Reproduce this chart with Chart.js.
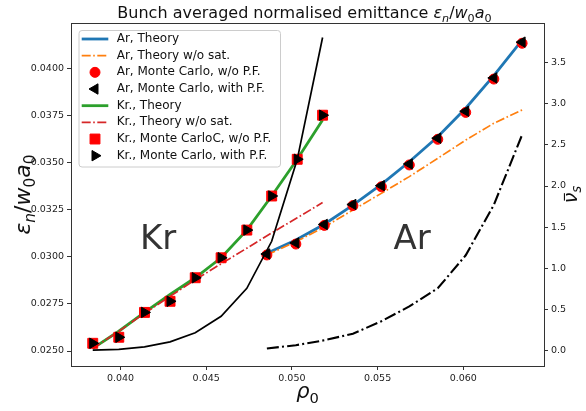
<!DOCTYPE html>
<html><head><meta charset="utf-8">
<script src="https://cdn.jsdelivr.net/npm/chart.js@4.4.1/dist/chart.umd.min.js"></script>
<style>html,body{margin:0;padding:0;background:#fff;}#wrap{width:586px;height:411px;}</style>
</head><body><div id="wrap"><canvas id="c" width="586" height="411"></canvas></div>
<script>
// ---- data ----
const krRho      = [0.03838, 0.03990, 0.04140, 0.04289, 0.04436, 0.04587, 0.04737, 0.04882, 0.05031, 0.05179];
const krTheory   = [0.02514, 0.02605, 0.02705, 0.02800, 0.02889, 0.02995, 0.03142, 0.03323, 0.03518, 0.03727];
const krNoSat    = [0.02514, 0.02605, 0.02700, 0.02790, 0.02878, 0.02963, 0.03046, 0.03127, 0.03207, 0.03288];
const krMcNoPF   = [0.02541, 0.02573, 0.02705, 0.02764, 0.02889, 0.02995, 0.03142, 0.03323, 0.03518, 0.03752];
const krMcPF     = [0.02541, 0.02573, 0.02705, 0.02764, 0.02889, 0.02995, 0.03142, 0.03323, 0.03518, 0.03752];
const krNu       = [0.01, 0.02, 0.05, 0.11, 0.22, 0.42, 0.76, 1.33, 2.32, 3.80];

const arRho      = [0.04854, 0.05023, 0.05189, 0.05356, 0.05522, 0.05685, 0.05851, 0.06014, 0.06178, 0.06343];
const arTheory   = [0.03019, 0.03089, 0.03173, 0.03275, 0.03385, 0.03505, 0.03638, 0.03789, 0.03962, 0.04151];
const arNoSat    = [0.03010, 0.03080, 0.03158, 0.03249, 0.03337, 0.03426, 0.03523, 0.03620, 0.03709, 0.03780];
const arMcNoPF   = [0.03010, 0.03068, 0.03167, 0.03272, 0.03372, 0.03488, 0.03624, 0.03767, 0.03944, 0.04134];
const arMcPF     = [0.03015, 0.03074, 0.03172, 0.03278, 0.03378, 0.03493, 0.03630, 0.03773, 0.03950, 0.04140];
const arNu       = [0.03, 0.07, 0.13, 0.21, 0.36, 0.54, 0.76, 1.16, 1.77, 2.62];

const xTicks  = [0.040, 0.045, 0.050, 0.055, 0.060];
const yTicks  = [0.0250, 0.0275, 0.0300, 0.0325, 0.0350, 0.0375, 0.0400];
const y2Ticks = [0.0, 0.5, 1.0, 1.5, 2.0, 2.5, 3.0, 3.5];

const gasLabels = [{t:'Kr', x:0.04114, y:0.0304}, {t:'Ar', x:0.05593, y:0.03042}];

// ---- text pieces (math-like) ----
const titleSegs = [{t:'Bunch averaged normalised emittance '},{t:'ε',it:1},{t:'n',it:1,sub:1},{t:'/'},{t:'w',it:1},{t:'0',sub:1},{t:'a',it:1},{t:'0',sub:1}];
const yLabelSegs = [{t:'ε',it:1},{t:'n',it:1,sub:1},{t:'/'},{t:'w',it:1},{t:'0',sub:1},{t:'a',it:1},{t:'0',sub:1}];
const xLabelSegs = [{t:'ρ',it:1},{t:'0',sub:1}];
const y2LabelSegs = [{t:'ν',it:1,bar:1},{t:'s',it:1,sub:1}];

function pts(xs, ys){ return xs.map((x,i)=>({x:x, y:ys[i]})); }

const DD  = [9, 2.5, 1.6, 2.5];
const DDk = [12, 3.2, 2, 3.2];

const datasets = [
 {label:'Ar, Theory', data:pts(arRho, arTheory), yAxisID:'y', borderColor:'#1f77b4', borderWidth:2.8, pointRadius:0, handle:'line'},
 {label:'Ar, Theory w/o sat.', data:pts(arRho, arNoSat), yAxisID:'y', borderColor:'#ff7f0e', borderWidth:1.7, borderDash:DD, pointRadius:0, handle:'line'},
 {label:'Ar, Monte Carlo, w/o P.F.', data:pts(arRho, arMcNoPF), yAxisID:'y', showLine:false, pointStyle:'circle', pointRadius:5, pointBackgroundColor:'#ff0000', pointBorderColor:'#ff0000', pointBorderWidth:1, borderColor:'#ff0000', handle:'marker'},
 {label:'Ar, Monte Carlo, with P.F.', data:pts(arRho, arMcPF), yAxisID:'y', showLine:false, pointStyle:'triangle', pointRotation:-90, pointRadius:6, pointBackgroundColor:'#000', pointBorderColor:'#000', pointBorderWidth:1, borderColor:'#000', handle:'marker'},
 {label:'Kr., Theory', data:pts(krRho, krTheory), yAxisID:'y', borderColor:'#2ca02c', borderWidth:2.8, pointRadius:0, handle:'line'},
 {label:'Kr., Theory w/o sat.', data:pts(krRho, krNoSat), yAxisID:'y', borderColor:'#d62728', borderWidth:1.7, borderDash:DD, pointRadius:0, handle:'line'},
 {label:'Kr., Monte CarloC, w/o P.F.', data:pts(krRho, krMcNoPF), yAxisID:'y', showLine:false, pointStyle:'rect', pointRadius:7, pointBackgroundColor:'#ff0000', pointBorderColor:'#ff0000', pointBorderWidth:1, borderColor:'#ff0000', handle:'marker'},
 {label:'Kr., Monte Carlo, with P.F.', data:pts(krRho, krMcPF), yAxisID:'y', showLine:false, pointStyle:'triangle', pointRotation:90, pointRadius:6, pointBackgroundColor:'#000', pointBorderColor:'#000', pointBorderWidth:1, borderColor:'#000', handle:'marker'},
 {label:'Kr nu', data:pts(krRho, krNu), yAxisID:'y2', borderColor:'#000', borderWidth:1.7, pointRadius:0},
 {label:'Ar nu', data:pts(arRho, arNu), yAxisID:'y2', borderColor:'#000', borderWidth:2.1, borderDash:DDk, pointRadius:0}
];
datasets.forEach((d,i)=>{ d.order = datasets.length - i; d.fill = false; d.tension = 0; });

const FONT = '"DejaVu Sans", sans-serif';
function segFont(s, size){ const sz = s.sub ? size*0.7 : size; return (s.it?'italic ':'') + sz + 'px ' + FONT; }
function richWidth(ctx, segs, size){ let w=0; segs.forEach(s=>{ ctx.font=segFont(s,size); w+=ctx.measureText(s.t).width; }); return w; }
function drawRich(ctx, segs, x, y, size, align){
  const w = richWidth(ctx, segs, size);
  let cx = align==='center' ? x - w/2 : x;
  ctx.textAlign='left'; ctx.textBaseline='alphabetic';
  segs.forEach(s=>{
    ctx.font = segFont(s,size);
    const dy = s.sub ? size*0.22 : 0;
    ctx.fillText(s.t, cx, y + dy);
    const tw = ctx.measureText(s.t).width;
    if (s.bar){ ctx.save(); ctx.lineWidth = size*0.06; ctx.strokeStyle = ctx.fillStyle; ctx.beginPath(); ctx.moveTo(cx + tw*0.25, y - size*0.66); ctx.lineTo(cx + tw*0.95, y - size*0.66); ctx.stroke(); ctx.restore(); }
    cx += tw;
  });
}
function marker(ctx, style, r, rot, x, y, fill){
  ctx.save(); ctx.fillStyle = fill; ctx.strokeStyle = fill; ctx.lineWidth = 1; ctx.beginPath();
  if (style==='circle'){ ctx.arc(x,y,r,0,Math.PI*2); }
  else if (style==='rect'){ const h=r*Math.SQRT1_2; ctx.rect(x-h,y-h,2*h,2*h); }
  else if (style==='triangle'){ let a=(rot||0)*Math.PI/180; ctx.moveTo(x+Math.sin(a)*r, y-Math.cos(a)*r); a+=2*Math.PI/3; ctx.lineTo(x+Math.sin(a)*r, y-Math.cos(a)*r); a+=2*Math.PI/3; ctx.lineTo(x+Math.sin(a)*r, y-Math.cos(a)*r); ctx.closePath(); }
  ctx.fill(); ctx.stroke(); ctx.restore();
}

const decor = {
  id:'decor',
  beforeDraw(chart){ const c=chart.ctx; c.save(); c.fillStyle='#fff'; c.fillRect(0,0,chart.width,chart.height); c.restore(); },
  afterDraw(chart){
    const ctx = chart.ctx, a = chart.chartArea, sx = chart.scales.x, sy = chart.scales.y;
    ctx.save();
    // top spine
    ctx.strokeStyle='#333'; ctx.lineWidth=1; ctx.beginPath(); ctx.moveTo(a.left, Math.round(a.top)+0.5); ctx.lineTo(a.right, Math.round(a.top)+0.5); ctx.stroke();
    // gas labels
    ctx.fillStyle='#333'; ctx.font='34px '+FONT; ctx.textAlign='left'; ctx.textBaseline='alphabetic';
    gasLabels.forEach(g=>ctx.fillText(g.t, sx.getPixelForValue(g.x), sy.getPixelForValue(g.y)));
    // title + axis labels
    ctx.fillStyle='#111';
    drawRich(ctx, titleSegs, (a.left+a.right)/2 - 3, 18, 16, 'center');
    drawRich(ctx, xLabelSegs, (a.left+a.right)/2, 398, 21, 'center');
    const cy = (a.top+a.bottom)/2;
    ctx.save(); ctx.translate(30, cy); ctx.rotate(-Math.PI/2); drawRich(ctx, yLabelSegs, 0, 0, 22, 'center'); ctx.restore();
    ctx.save(); ctx.translate(577, cy); ctx.rotate(-Math.PI/2); drawRich(ctx, y2LabelSegs, 0, 0, 19, 'center'); ctx.restore();
    // legend
    const L = {x:78.5, y:30, w:201.5, h:136.5};
    ctx.fillStyle='rgba(255,255,255,0.8)'; ctx.strokeStyle='#cccccc'; ctx.lineWidth=1;
    ctx.beginPath(); ctx.roundRect(L.x+0.5, L.y+0.5, L.w, L.h, 3); ctx.fill(); ctx.stroke();
    const items = chart.data.datasets.filter(d=>d.handle);
    items.forEach((d,i)=>{
      const yy = 39 + i*16.67;
      if (d.handle==='line'){
        ctx.save(); ctx.strokeStyle=d.borderColor; ctx.lineWidth=d.borderWidth; ctx.setLineDash(d.borderDash||[]);
        ctx.beginPath(); ctx.moveTo(81.7, yy); ctx.lineTo(108.3, yy); ctx.stroke(); ctx.restore();
      } else {
        marker(ctx, d.pointStyle, d.pointRadius, d.pointRotation, 95, yy, d.pointBackgroundColor);
      }
      ctx.fillStyle='#111'; ctx.font='12px '+FONT; ctx.textAlign='left'; ctx.textBaseline='middle';
      ctx.fillText(d.label, 116.7, yy);
    });
    ctx.restore();
  }
};

const tickFont = {family:'"DejaVu Sans", sans-serif', size:9.5};
const gridOpts = {drawOnChartArea:false, drawTicks:true, tickLength:4, tickColor:'#333', tickWidth:1};
const borderOpts = {display:true, color:'#333', width:1};

new Chart(document.getElementById('c'), {
  type:'line',
  data:{datasets:datasets},
  options:{
    responsive:false, devicePixelRatio:1, animation:false, events:[],
    layout:{padding:{top:23, left:0, right:0, bottom:0}},
    plugins:{legend:{display:false}, tooltip:{enabled:false}, title:{display:false}},
    scales:{
      x:{type:'linear', min:0.037112, max:0.064708,
         afterBuildTicks:s=>{ s.ticks = xTicks.map(v=>({value:v})); },
         afterFit:s=>{ s.height = 45; },
         ticks:{callback:v=>v.toFixed(3), font:tickFont, color:'#222', padding:3, autoSkip:false, maxRotation:0},
         grid:gridOpts, border:borderOpts},
      y:{type:'linear', position:'left', min:0.024204, max:0.042416,
         afterBuildTicks:s=>{ s.ticks = yTicks.map(v=>({value:v})); },
         afterFit:s=>{ s.width = 71; },
         ticks:{callback:v=>v.toFixed(4), font:tickFont, color:'#222', padding:3, autoSkip:false},
         grid:gridOpts, border:borderOpts},
      y2:{type:'linear', position:'right', min:-0.182, max:3.976,
         afterBuildTicks:s=>{ s.ticks = y2Ticks.map(v=>({value:v})); },
         afterFit:s=>{ s.width = 42; },
         ticks:{callback:v=>v.toFixed(1), font:tickFont, color:'#222', padding:3, autoSkip:false},
         grid:gridOpts, border:borderOpts}
    }
  },
  plugins:[decor]
});
</script></body></html>
